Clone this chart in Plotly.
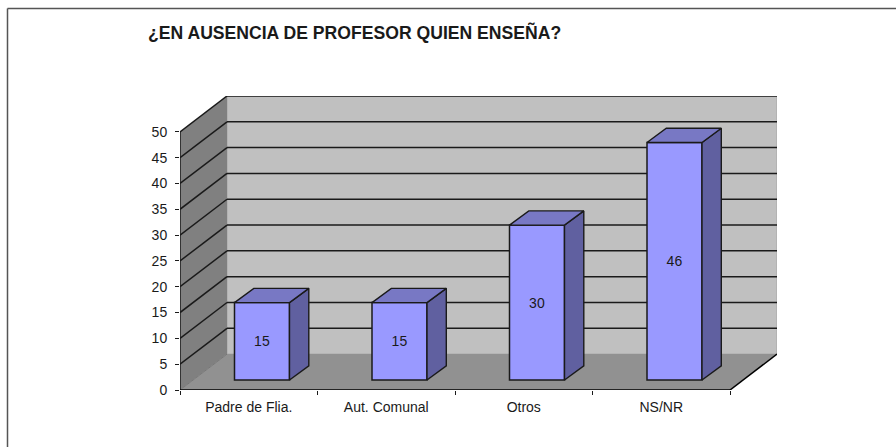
import plotly.graph_objects as go

TITLE = "¿EN AUSENCIA DE PROFESOR QUIEN ENSEÑA?"
categories = ["Padre de Flia.", "Aut. Comunal", "Otros", "NS/NR"]
values = [15, 15, 30, 46]
y_ticks = [0, 5, 10, 15, 20, 25, 30, 35, 40, 45, 50]

# plot-area pixel box
W, H = 896, 447
L, R, T, B = 180, 777, 96, 390
UX = 137.5            # px per category
UY = 259 / 50         # px per value unit
DX = 47 / UX          # depth of the box, in axis units
DY = 36 / UY
BW = 55 / UX          # bar width
BSX, BSY = 13.25 / UX, 10 / UY     # offset of bars' front plane
SX, SY = 19.3 / UX, 14.3 / UY      # bar depth
N = len(categories)
INK = "#1a1a1a"

def px(x):
    return (x - L) / (R - L)
def py(y):
    return (B - y) / (B - T)

def poly(pts):
    return "M" + " L".join(f"{x},{y}" for x, y in pts) + " Z"

shapes = []
def add_poly(pts, fill, line="rgba(0,0,0,0)", lw=0):
    shapes.append(dict(type="path", path=poly(pts), xref="x", yref="y", layer="below",
                       fillcolor=fill, line=dict(color=line, width=lw)))
def add_line(x0, y0, x1, y1, color=INK, lw=1.5):
    shapes.append(dict(type="line", x0=x0, y0=y0, x1=x1, y1=y1, xref="x", yref="y",
                       layer="below", line=dict(color=color, width=lw)))

top = y_ticks[-1]
# back wall, left wall, floor
add_poly([(DX, DY), (N + DX, DY), (N + DX, top + DY), (DX, top + DY)], "#C0C0C0", "#A6A6A6", 1)
add_poly([(0, 0), (DX, DY), (DX, top + DY), (0, top)], "#808080")
add_poly([(0, 0), (N, 0), (N + DX, DY), (DX, DY)], "#919191")
# gridlines
for v in y_ticks[1:]:
    add_line(0, v, DX, v + DY)
    add_line(DX, v + DY, N + DX, v + DY)
add_line(0, 0, DX, DY, "#777777", 1)
# axes
add_line(0, 0, 0, top)
add_line(0, 0, N, 0, "#000000", 1.5)
add_line(N, 0, N + DX, DY, "#000000", 1.5)

# chart border: only top and left edges fall inside the picture
for x0, y0, x1, y1 in [(7.5, 8.5, W, 8.5), (7.5, 8.5, 7.5, H)]:
    shapes.append(dict(type="line", xref="paper", yref="paper", layer="below",
                       x0=px(x0), x1=px(x1), y0=py(y0), y1=py(y1),
                       line=dict(color="#555555", width=1.5)))

centers = [i + 0.5 + BSX for i in range(N)]

fig = go.Figure()
fig.add_trace(go.Bar(
    x=centers, y=values, base=BSY, width=BW,
    marker=dict(color="#9999FF", line=dict(color=INK, width=1.5)),
    text=[str(v) for v in values], textposition="inside", insidetextanchor="middle",
    textangle=0, constraintext="none",
    textfont=dict(family="Liberation Sans", size=14, color=INK),
    hoverinfo="skip", showlegend=False,
))
for c, v in zip(centers, values):
    x0, x1 = c - BW / 2, c + BW / 2
    y0, y1 = BSY, BSY + v
    fig.add_trace(go.Scatter(
        x=[x1, x1 + SX, x1 + SX, x1, x1], y=[y0, y0 + SY, y1 + SY, y1, y0],
        mode="lines", fill="toself", fillcolor="#6060A0",
        line=dict(color=INK, width=1.4), hoverinfo="skip", showlegend=False))
    fig.add_trace(go.Scatter(
        x=[x0, x1, x1 + SX, x0 + SX, x0], y=[y1, y1, y1 + SY, y1 + SY, y1],
        mode="lines", fill="toself", fillcolor="#7878C4",
        line=dict(color=INK, width=1.4), hoverinfo="skip", showlegend=False))

fig.update_layout(
    width=W, height=H, autosize=False,
    margin=dict(l=L, r=W - R, t=T, b=H - B, pad=0),
    paper_bgcolor="white", plot_bgcolor="white",
    font=dict(family="Liberation Sans", size=14, color=INK),
    showlegend=False, shapes=shapes,
    title=dict(text=f"<b>{TITLE}</b>", x=148 / W, xanchor="left", y=1 - 33 / H, yanchor="middle",
               font=dict(family="Liberation Sans", size=17.6, color=INK)),
    xaxis=dict(range=[0, N + DX], tickmode="array",
               tickvals=[i + 0.5 for i in range(N)], ticktext=categories,
               ticks="", showgrid=False, zeroline=False, showline=False, ticklabelstandoff=7,
               minor=dict(tickmode="array", tickvals=list(range(N + 1)), ticks="outside",
                          ticklen=4, tickcolor=INK, tickwidth=1, showgrid=False)),
    yaxis=dict(range=[0, top + DY], tickmode="array", tickvals=y_ticks,
               ticks="outside", ticklen=4, tickcolor=INK, tickwidth=1,
               showgrid=False, zeroline=False, showline=False, ticklabelstandoff=5),
)
fig.write_html("out.html", config=dict(displayModeBar=False),
               post_script="document.body.style.margin='0';")
